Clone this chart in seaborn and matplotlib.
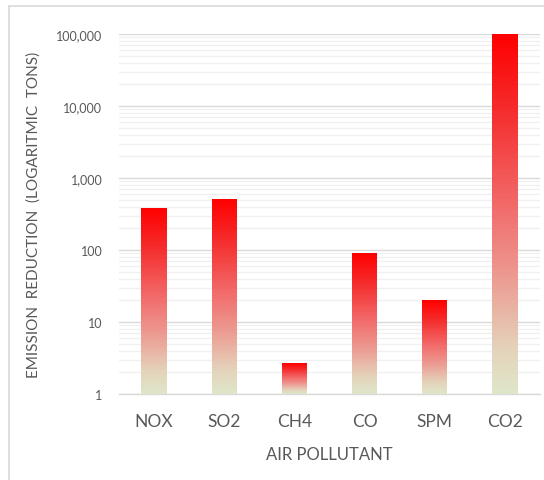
import numpy as np
import pandas as pd
import matplotlib
matplotlib.use("Agg")
import matplotlib.pyplot as plt
from matplotlib.colors import LinearSegmentedColormap
from matplotlib.lines import Line2D
from matplotlib.ticker import FixedLocator, LogLocator, NullFormatter, FuncFormatter
import seaborn as sns

categories = ["NOX", "SO2", "CH4", "CO", "SPM", "CO2"]
values = [380, 505, 2.7, 90, 20, 100000]
ytick_values = [1, 10, 100, 1000, 10000, 100000]

sns.set_theme(style="white")
plt.rcParams["font.family"] = ["Lato", "DejaVu Sans"]

df = pd.DataFrame({"pollutant": categories, "reduction": values})

fig = plt.figure(figsize=(5.44, 4.81), dpi=100)
ax = fig.add_axes([119 / 544, 1 - 395 / 481, 421 / 544, 360 / 481])

sns.barplot(data=df, x="pollutant", y="reduction", ax=ax, width=0.36,
            color="red", log_scale=(False, True), zorder=3)

ax.set_yscale("log")
ax.set_ylim(1, 100000)
ax.set_xlim(-0.5, len(categories) - 0.5)

cmap = LinearSegmentedColormap.from_list("grad", [
    (0.0, "#dee6c8"), (0.12, "#e4d3bb"), (0.32, "#ec9b92"),
    (0.55, "#f26464"), (0.8, "#f52a2a"), (1.0, "#ff0000")])

for p in ax.patches:
    x0 = p.get_x()
    w = p.get_width()
    y0 = max(p.get_y(), 1)
    h = p.get_y() + p.get_height()
    p.set_facecolor("none")
    p.set_edgecolor("none")
    yedges = np.geomspace(y0, h, 300)
    xedges = np.array([x0, x0 + w])
    t = np.linspace(0, 1, 299).reshape(-1, 1)
    ax.pcolormesh(xedges, yedges, t, cmap=cmap, vmin=0, vmax=1,
                  shading="flat", zorder=3)

# gridlines
ax.yaxis.set_major_locator(FixedLocator(ytick_values))
ax.yaxis.set_minor_locator(LogLocator(base=10, subs=np.arange(2, 10)))
ax.yaxis.set_minor_formatter(NullFormatter())
ax.yaxis.set_major_formatter(FuncFormatter(lambda v, pos: f"{int(round(v)):,}"))
ax.grid(True, which="major", axis="y", color="#d9d9d9", linewidth=1.0, zorder=0)
ax.grid(True, which="minor", axis="y", color="#f0f0f0", linewidth=1.0, zorder=0)
ax.set_axisbelow(True)

for s in ["left", "right", "top"]:
    ax.spines[s].set_visible(False)
ax.spines["bottom"].set_color("#d9d9d9")
ax.spines["bottom"].set_linewidth(1.0)

ax.tick_params(axis="y", which="both", length=0, labelsize=9, labelcolor="#595959", pad=12)
ax.tick_params(axis="x", which="major", length=0, labelsize=12.5, labelcolor="#595959", pad=14)

# category boundary tick marks
ax.set_xticks(np.arange(len(categories)))
ax.set_xticklabels(categories)
ax.set_xticks(np.arange(-0.5, len(categories)), minor=True)
ax.tick_params(axis="x", which="minor", length=5, color="#d9d9d9", width=1.0, direction="out")

ax.set_xlabel("AIR POLLUTANT", fontsize=12, color="#595959", labelpad=12)
ax.set_ylabel("EMISSION  REDUCTION  (LOGARITMIC  TONS)", fontsize=11, color="#595959", labelpad=11)

# outer chart border (top & left visible)
fig.add_artist(Line2D([9 / 544, 1], [1 - 7 / 481, 1 - 7 / 481], color="#d9d9d9", lw=1.2, transform=fig.transFigure))
fig.add_artist(Line2D([9 / 544, 9 / 544], [0, 1 - 7 / 481], color="#d9d9d9", lw=1.2, transform=fig.transFigure))

fig.savefig("out.png", dpi=100)
